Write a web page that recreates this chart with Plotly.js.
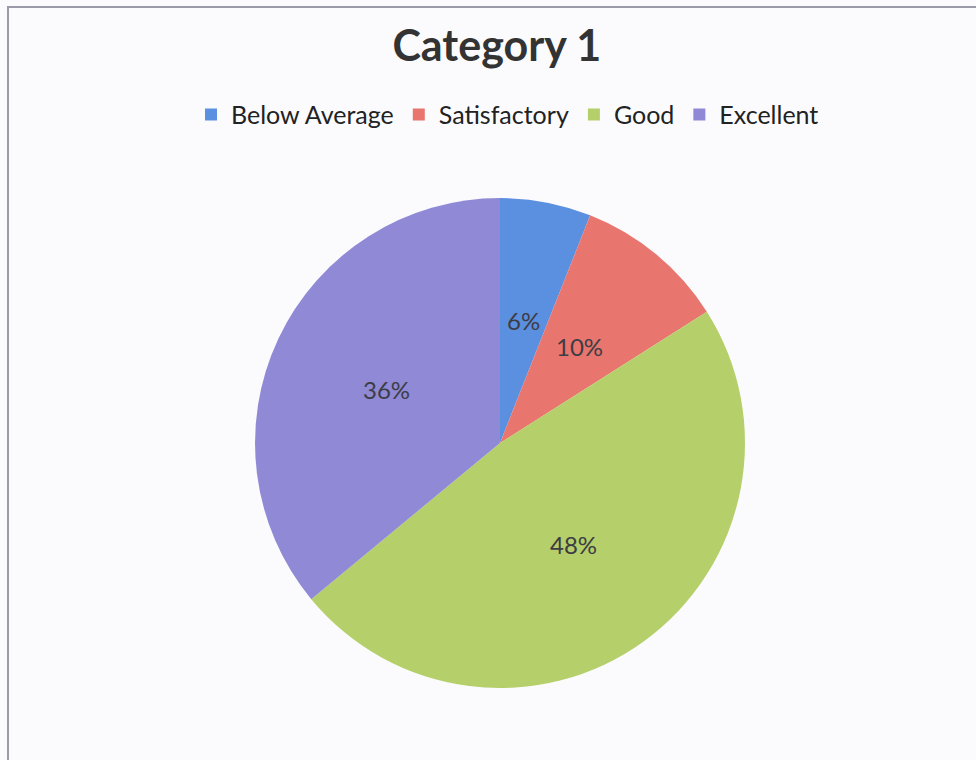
<!DOCTYPE html>
<html>
<head>
<meta charset="utf-8">
<script src="https://cdn.plot.ly/plotly-3.0.1.min.js"></script>
<style>html,body{margin:0;padding:0;background:#fbfbfd;}#chart{width:976px;height:760px;}</style>
</head>
<body>
<div id="chart"></div>
<script>
const categories = ["Below Average", "Satisfactory", "Good", "Excellent"];
const values = [6, 10, 48, 36];
const colors = ["#5b8fe0", "#e8756e", "#b5cf6a", "#8f89d6"];

const W = 976, H = 760;
const dom = {x: [0.2613, 0.7633], y: [0.0947, 0.7395]};

const trace = {
  type: "pie",
  labels: categories,
  values: values,
  sort: false,
  direction: "clockwise",
  rotation: 0,
  marker: {colors: colors, line: {width: 0}},
  textinfo: "none",
  domain: dom,
  hoverinfo: "label+percent"
};

// percentage labels placed at about half the radius, along each slice's middle angle
const total = values.reduce((a, b) => a + b, 0);
const cx = (dom.x[0] + dom.x[1]) / 2, cy = (dom.y[0] + dom.y[1]) / 2;
const Rpx = (dom.x[1] - dom.x[0]) * W / 2;
let cum = 0;
const annotations = values.map(v => {
  const mid = (cum + v / 2) / total * 2 * Math.PI;
  cum += v;
  return {
    xref: "paper", yref: "paper",
    x: cx + 0.51 * Rpx * Math.sin(mid) / W,
    y: cy + 0.51 * Rpx * Math.cos(mid) / H,
    xanchor: "center", yanchor: "middle",
    text: Math.round(v / total * 100) + "%",
    showarrow: false,
    font: {family: "Lato, sans-serif", size: 24, color: "#3d3d45"}
  };
});

const layout = {
  width: W, height: H,
  margin: {l: 0, r: 0, t: 0, b: 0},
  paper_bgcolor: "#fbfbfd",
  plot_bgcolor: "#fbfbfd",
  title: {text: "<b>Category 1</b>", font: {family: "Lato, sans-serif", size: 43, color: "#333"}, x: 0.509, xanchor: "center", y: 0.939, yanchor: "middle"},
  showlegend: true,
  legend: {orientation: "h", x: 0.52, xanchor: "center", y: 0.849, yanchor: "middle",
    font: {family: "Lato, sans-serif", size: 25, color: "#222"}, itemwidth: 30, traceorder: "normal", bgcolor: "rgba(0,0,0,0)"},
  annotations: annotations,
  shapes: [{type: "rect", xref: "paper", yref: "paper", x0: 8/976, x1: 1.05, y0: -0.05, y1: 1 - 7/760,
    line: {color: "#9a9aa8", width: 2}, fillcolor: "rgba(0,0,0,0)"}]
};

Plotly.newPlot("chart", [trace], layout, {displayModeBar: false, staticPlot: true});
</script>
</body>
</html>
